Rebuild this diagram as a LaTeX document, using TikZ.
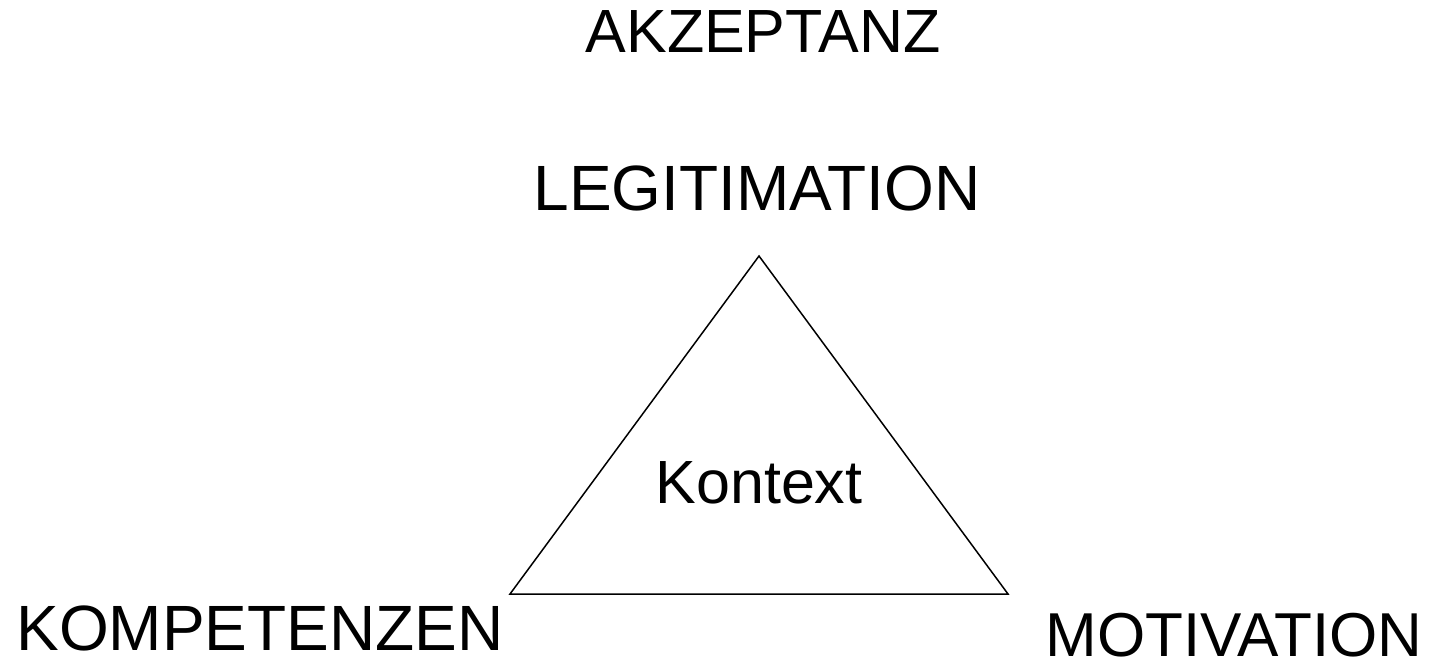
\documentclass[tikz,border=0pt]{standalone}
\usepackage{fontspec}
\setmainfont{Liberation Sans}
\begin{document}
\begin{tikzpicture}[x=1pt,y=-1pt,
  label/.style={anchor=base,inner sep=0pt,text depth=0pt},
  biglabel/.style={label,font=\fontsize{64}{64}\selectfont},
  midlabel/.style={label,font=\fontsize{61}{61}\selectfont},
  edge/.style={draw=black,line width=1.5pt,line join=miter}]
  \useasboundingbox[fill=white] (0,0) rectangle (1434,658);
  % corners of the triangle
  \coordinate (top) at (759,256);
  \coordinate (bl) at (510,594);
  \coordinate (br) at (1008,594);
  \draw[edge] (top) -- (bl) -- (br) -- cycle;
  % labels
  \node[midlabel] (akz) at (763,53) {AKZEPTANZ};
  \node[biglabel] (leg) at (757,210) {LEGITIMATION};
  \node[biglabel] (kom) at (260,650) {KOMPETENZEN};
  \node[label,font=\fontsize{62}{62}\selectfont] (mot) at (1234,656) {MOTIVATION};
  \node[midlabel] (ktx) at (759,503) {Kontext};
\end{tikzpicture}
\end{document}
